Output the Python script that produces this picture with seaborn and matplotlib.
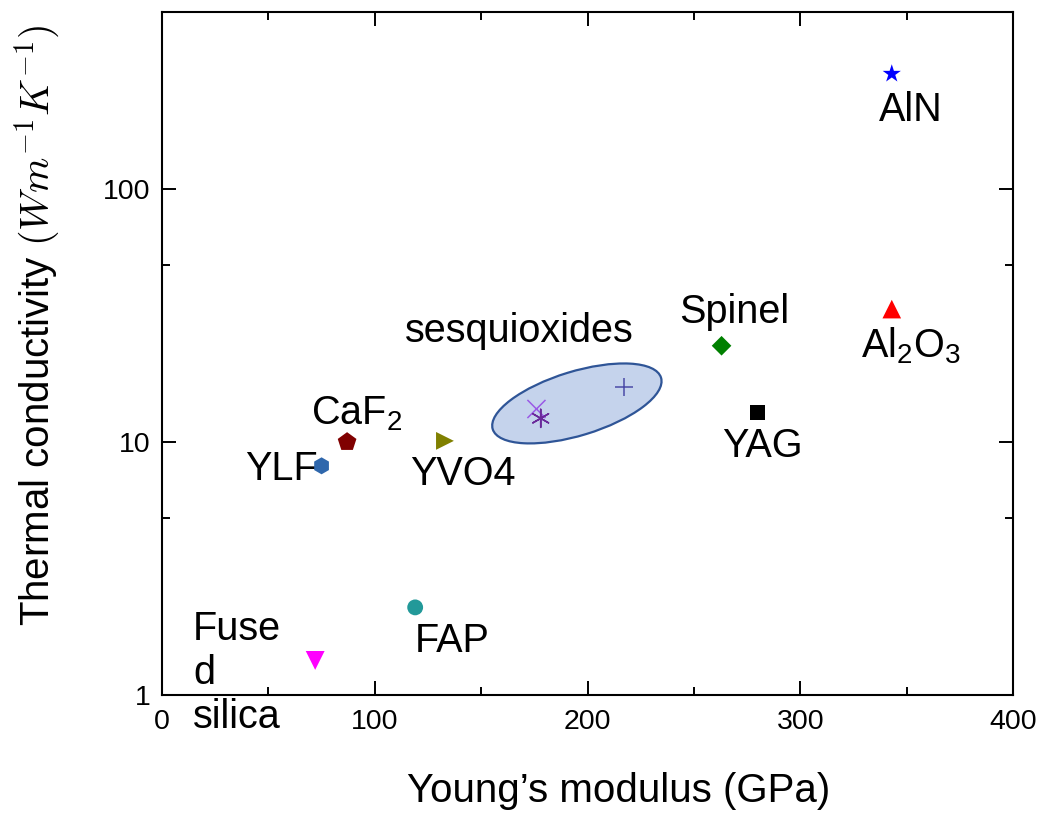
import numpy as np
import pandas as pd
import matplotlib
matplotlib.use("Agg")
import matplotlib.pyplot as plt
import seaborn as sns
from matplotlib.patches import Ellipse
from matplotlib.ticker import FixedLocator, NullFormatter, FixedFormatter
from matplotlib.transforms import ScaledTranslation

# Laser host materials: Young's modulus (GPa) vs thermal conductivity (W/m/K)
materials = ["AlN", "Al2O3", "Spinel", "YAG", "YVO4", "CaF2", "YLF", "FAP", "Fused silica"]
youngs_modulus = [343, 343, 263, 280, 133, 87, 75, 119, 72]
thermal_conductivity = [285, 33.5, 24, 13.1, 10.1, 10.0, 8.05, 2.22, 1.37]
colors = ["#0000ff", "#ff0000", "#008000", "#000000", "#808000",
          "#800000", "#2f67ac", "#229999", "#ff00ff"]
markers = ["*", "^", "D", "s", ">", "p", "h", "o", "v"]
marker_sizes = [190, 180, 100, 125, 165, 200, 150, 130, 185]
labels = ["AlN", r"$\mathregular{Al_2O_3}$", "Spinel", "YAG", "YVO4",
          r"$\mathregular{CaF_2}$", "YLF", "FAP", "Fuse\nd\nsilica"]
# label offsets (points) relative to each marker
label_dx = [13.5, 14, 9, 3.5, 13, 7, -3, 27, -88]
label_dy = [-26, -26, 24, -24, -24, 20, -2, -24, -9]
label_ha = ["center", "center", "center", "center", "center", "center", "right", "center", "left"]

# Sesquioxide group
sesq_names = ["Sc2O3", "Y2O3", "Lu2O3"]
sesq_modulus = [217, 176, 178]
sesq_conductivity = [16.5, 13.5, 12.4]
sesq_colors = ["#4b4ba8", "#9a5ae6", "#6a2a9a"]
sesq_markers = ["+", "x", (6, 2, 0)]

x_ticks = [0, 100, 200, 300, 400]
x_minor = [50, 150, 250, 350]
y_ticks = [1, 10, 100]
y_minor = [5, 50]

sns.set_theme(style="ticks")
plt.rcParams["font.family"] = ["Liberation Sans", "DejaVu Sans"]
plt.rcParams["mathtext.fontset"] = "cm"
for key in ["text.color", "axes.labelcolor", "xtick.color", "ytick.color", "axes.edgecolor"]:
    plt.rcParams[key] = "black"

fig = plt.figure(figsize=(10.37, 8.13), dpi=100)
ax = fig.add_axes([0.1562, 0.1451, 0.8207, 0.8401])

df = pd.DataFrame({"material": materials, "E": youngs_modulus, "k": thermal_conductivity})
sns.scatterplot(data=df, x="E", y="k", hue="material", style="material", size="material",
                palette=dict(zip(materials, colors)),
                markers=dict(zip(materials, markers)),
                sizes=dict(zip(materials, marker_sizes)),
                linewidth=0, legend=False, ax=ax, zorder=4)

sdf = pd.DataFrame({"material": sesq_names, "E": sesq_modulus, "k": sesq_conductivity})
sns.scatterplot(data=sdf, x="E", y="k", hue="material", style="material",
                palette=dict(zip(sesq_names, sesq_colors)),
                markers=dict(zip(sesq_names, sesq_markers)),
                s=170, linewidth=1.1, legend=False, ax=ax, zorder=4)

ax.set_yscale("log")
ax.set_xlim(0, 400)
ax.set_ylim(1, 500)

# ellipse enclosing the sesquioxides (size in inches, placed at data centre)
ell_tr = fig.dpi_scale_trans + ScaledTranslation(195, 14.2, ax.transData)
ax.add_patch(Ellipse((0, 0), width=1.76, height=0.64, angle=17, transform=ell_tr,
                     facecolor="#c5d3ec", edgecolor="#2f5597", linewidth=1.6, zorder=2))
ax.text(168, 27.4, "sesquioxides", fontsize=28.5, ha="center", va="center")

for xv, yv, lab, dx, dy, ha in zip(youngs_modulus, thermal_conductivity, labels,
                                   label_dx, label_dy, label_ha):
    ax.annotate(lab, (xv, yv), xytext=(dx, dy), textcoords="offset points",
                fontsize=28.5, ha=ha, va="center", linespacing=1.2)

ax.xaxis.set_major_locator(FixedLocator(x_ticks))
ax.xaxis.set_minor_locator(FixedLocator(x_minor))
ax.yaxis.set_major_locator(FixedLocator(y_ticks))
ax.yaxis.set_major_formatter(FixedFormatter([str(v) for v in y_ticks]))
ax.yaxis.set_minor_locator(FixedLocator(y_minor))
ax.yaxis.set_minor_formatter(NullFormatter())

ax.tick_params(which="both", direction="in", top=True, right=True, width=1.4, colors="black")
ax.tick_params(which="major", length=10, labelsize=20.5)
ax.tick_params(which="minor", length=6)
ax.tick_params(axis="x", which="major", pad=10)
ax.tick_params(axis="y", which="major", pad=8)
for sp in ax.spines.values():
    sp.set_linewidth(1.5)
    sp.set_color("black")

ax.set_xlabel("Young\u2019s modulus (GPa)", fontsize=29)
ax.set_ylabel(r"Thermal conductivity $(Wm^{-1}K^{-1})$", fontsize=29)
ax.xaxis.set_label_coords(0.537, -0.112)
ax.yaxis.set_label_coords(-0.118, 0.542)

fig.savefig("out.png", dpi=100)
